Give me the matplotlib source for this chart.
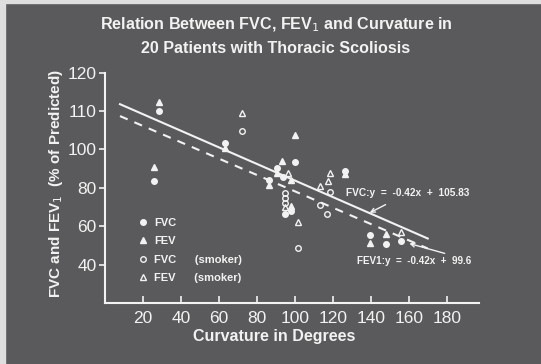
import matplotlib
matplotlib.use('Agg')
import matplotlib.pyplot as plt
import numpy as np
from matplotlib.lines import Line2D
from matplotlib.patches import Rectangle

# y axis of the slide is not linear: 120,110,100 then 80,60,40 at equal spacing
y_vals = [20, 40, 60, 80, 100, 110, 120]
y_pos = [-1, 0, 1, 2, 3, 4, 5]
y_ticks = [40, 60, 80, 100, 110, 120]
x_ticks = [20, 40, 60, 80, 100, 120, 140, 160, 180]

# FVC / FEV, non smokers
fvc_x = [25.9, 28.2, 63.4, 86.4, 93.7, 99.9, 90.6, 94.6, 98.1, 126.2, 139.6, 148.0, 156.0]
fvc_y = [83.7, 109.9, 101.8, 84.1, 85.5, 93.3, 90.2, 66.3, 67.9, 88.9, 55.4, 51.0, 52.2]
fev_x = [25.9, 28.2, 63.4, 86.4, 93.4, 99.9, 90.6, 98.1, 98.1, 126.2, 139.6, 148.0]
fev_y = [91.0, 112.3, 100.3, 81.5, 94.0, 103.7, 87.9, 84.1, 70.8, 87.2, 51.5, 56.2]

# smokers
fvc_s_x = [72.4, 95.0, 95.0, 95.0, 101.6, 118.3, 113.0, 116.9]
fvc_s_y = [104.9, 77.4, 74.5, 72.2, 48.4, 77.6, 71.0, 66.2]
fev_s_x = [72.4, 96.4, 94.6, 101.6, 118.3, 117.4, 113.0, 156.0]
fev_s_y = [109.5, 87.6, 70.1, 62.3, 87.6, 83.7, 80.9, 56.9]

# regression lines as drawn on the slide
line_x = [7.9, 170.0]
fvc_line = [111.8, 53.6]
fev_line = [108.7, 48.4]

bg = '#5a5a5c'
fg = '#f2f2f2'
font = 'Liberation Sans'

def fwd(v):
    return np.interp(v, y_vals, y_pos)

def inv(p):
    return np.interp(p, y_pos, y_vals)

fig = plt.figure(figsize=(5.41, 3.64), dpi=100, facecolor=bg)
fig.patches.append(Rectangle((0, 0), 5/541, 1, transform=fig.transFigure, color='#dedede', zorder=-1))
fig.patches.append(Rectangle((0, 1 - 3/364), 1, 3/364, transform=fig.transFigure, color='#dedede', zorder=-1))

ax = fig.add_axes([105/541, 61/364, 374/541, 230.3/364])
ax.set_facecolor(bg)
ax.set_yscale('function', functions=(fwd, inv))
ax.set_xlim(0, 197)
ax.set_ylim(20, 120)

ax.plot(line_x, fvc_line, color=fg, lw=1.5)
ax.plot(line_x, fev_line, color=fg, lw=1.5, dashes=(4, 3.5))

ms = 4
ax.plot(fvc_x, fvc_y, 'o', color=fg, ms=ms, mec=fg)
ax.plot(fev_x, fev_y, '^', color=fg, ms=ms + 1, mec=fg)
ax.plot(fvc_s_x, fvc_s_y, 'o', mfc='none', mec=fg, ms=ms, mew=1)
ax.plot(fev_s_x, fev_s_y, '^', mfc='none', mec=fg, ms=ms + 1, mew=1)

ax.annotate('FVC:y  =  -0.42x  +  105.83', xy=(139.4, 67.0), xytext=(127.2, 77.3),
            color=fg, fontsize=7.3, fontweight='bold', family=font, va='center',
            arrowprops=dict(arrowstyle='->', color=fg, lw=1, shrinkA=6, shrinkB=0))
ax.annotate('FEV1:y  =  -0.42x  +  99.6', xy=(160.3, 51.0), xytext=(133.0, 41.8),
            color=fg, fontsize=7.1, fontweight='bold', family=font, va='center',
            arrowprops=dict(arrowstyle='->', color=fg, lw=1, shrinkA=0, shrinkB=0,
                            relpos=(0.85, 1.0)))

for s in ['top', 'right']:
    ax.spines[s].set_visible(False)
for s in ['left', 'bottom']:
    ax.spines[s].set_color(fg)
    ax.spines[s].set_linewidth(1.5)

ax.set_xticks(x_ticks)
ax.set_yticks(y_ticks)
ax.set_yticklabels([str(v) for v in y_ticks])
ax.tick_params(axis='x', direction='in', length=5, width=1.2, colors=fg, pad=6, labelsize=12.5)
ax.tick_params(axis='y', direction='out', length=4, width=1.2, colors=fg, pad=2, labelsize=12.5)
for lab in ax.get_xticklabels() + ax.get_yticklabels():
    lab.set_family(font)

ax.set_xlabel('Curvature in Degrees', color=fg, fontsize=11.5, fontweight='bold', family=font)
ax.xaxis.set_label_coords(0.452, -0.146)
ax.xaxis.label.set_va('center')
ax.set_ylabel('FVC and FEV$_1$  (% of Predicted)', color=fg, fontsize=11, fontweight='bold', family=font)
ax.yaxis.set_label_coords(-0.131, 0.521)
ax.yaxis.label.set_va('center')

fig.text(276.5/541, 1 - 25/364, 'Relation Between FVC, FEV$_1$ and Curvature in', color=fg,
         fontsize=11.6, fontweight='bold', family=font, ha='center', va='center')
fig.text(276/541, 1 - 48.3/364, '20 Patients with Thoracic Scoliosis', color=fg,
         fontsize=11.6, fontweight='bold', family=font, ha='center', va='center')

handles = [
    Line2D([], [], ls='none', marker='o', color=fg, ms=ms),
    Line2D([], [], ls='none', marker='^', color=fg, ms=ms + 1),
    Line2D([], [], ls='none', marker='o', mfc='none', mec=fg, ms=ms),
    Line2D([], [], ls='none', marker='^', mfc='none', mec=fg, ms=ms + 1),
]
labels = ['FVC', 'FEV', 'FVC      (smoker)', 'FEV      (smoker)']
leg = ax.legend(handles, labels, loc='upper left', bbox_to_anchor=(137.8/541, 1 - 218/364),
                bbox_transform=fig.transFigure, frameon=False, numpoints=1,
                handlelength=1.0, handletextpad=0.5, borderpad=0, borderaxespad=0,
                labelspacing=0.75, prop=dict(family=font, weight='bold', size=8))
for t in leg.get_texts():
    t.set_color(fg)

fig.savefig('out.png', dpi=100, facecolor=bg)
